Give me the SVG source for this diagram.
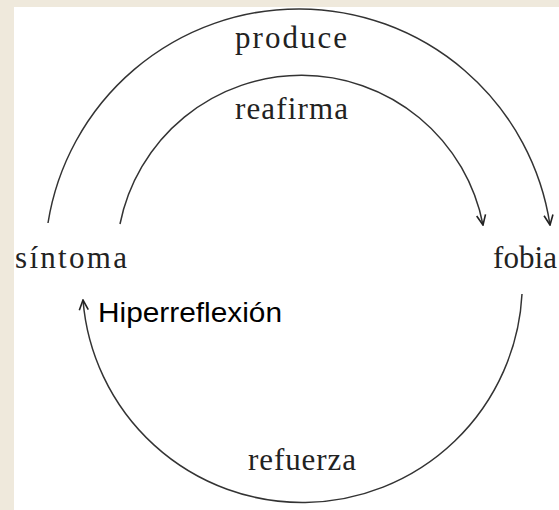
<svg xmlns="http://www.w3.org/2000/svg" width="559" height="510" viewBox="0 0 559 510">
<style>
.lbl{font-family:"Liberation Serif","Times New Roman",serif;font-size:31px;fill:#222}
.note{font-family:"Liberation Sans",Arial,sans-serif;font-size:28px;fill:#000}
.arc{fill:none;stroke:#333;stroke-width:1.5}
</style>
<defs>
<marker id="arr" viewBox="0 0 12 12" refX="11" refY="6" markerWidth="12" markerHeight="12" markerUnits="userSpaceOnUse" orient="auto">
<path d="M1 1.5 L11 6 L1 10.5" fill="none" stroke="#222" stroke-width="1.6"/>
</marker>
</defs>
<rect x="0" y="0" width="559" height="510" fill="#efe9dc"/>
<rect x="14" y="7" width="545" height="503" fill="#ffffff"/>
<g id="connectors">
<path class="arc" d="M48 223 A254 254 0 0 1 550 225" marker-end="url(#arr)"/>
<path class="arc" d="M120 224 A185 185 0 0 1 483 225" marker-end="url(#arr)"/>
<path class="arc" d="M522 294 A220 220 0 0 1 83 300" marker-end="url(#arr)"/>
</g>
<g id="sintoma"><text class="lbl" x="15" y="268" textLength="112" lengthAdjust="spacing">síntoma</text></g>
<g id="fobia"><text class="lbl" x="493" y="268" textLength="64" lengthAdjust="spacing">fobia</text></g>
<g id="label-produce"><text class="lbl" x="235" y="48" textLength="112" lengthAdjust="spacing">produce</text></g>
<g id="label-reafirma"><text class="lbl" x="235" y="119" textLength="113" lengthAdjust="spacing">reafirma</text></g>
<g id="label-refuerza"><text class="lbl" x="248" y="470" textLength="108" lengthAdjust="spacing">refuerza</text></g>
<g id="hiperreflexion"><text class="note" x="98" y="322" textLength="184" lengthAdjust="spacingAndGlyphs">Hiperreflexión</text></g>
</svg>
